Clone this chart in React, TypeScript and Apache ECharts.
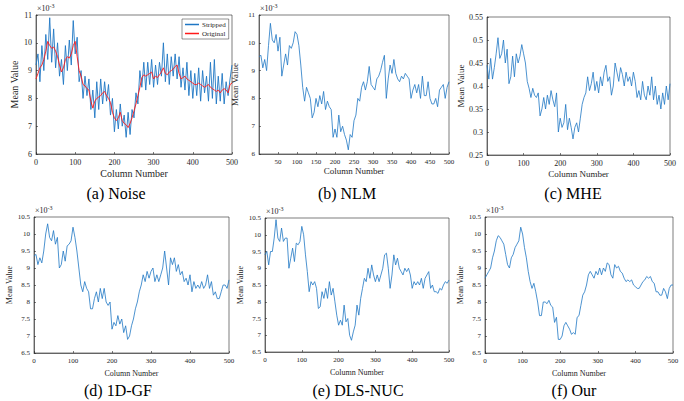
import React, { useEffect, useRef } from "react";
import * as echarts from "echarts";

// Mean value per column, sampled every 5 columns (0..500). Units: ×10^-3 except MHE.
const STEP = 5;
const noiseStripped = [
  9.2, 9.6, 8.6, 9.9, 9.0, 10.3, 9.4, 10.9, 9.3, 10.5, 9.1, 10.0, 8.8, 9.4, 8.5, 9.9, 9.0, 10.1, 9.2, 10.8,
  9.6, 10.2, 8.6, 9.0, 8.0, 8.8, 8.1, 8.7, 7.6, 8.3, 7.3, 8.6, 7.6, 8.7, 7.8, 8.6, 7.9, 8.5, 7.4, 8.0,
  6.8, 7.6, 6.9, 7.8, 7.0, 7.4, 6.6, 7.5, 6.7, 7.6, 7.3, 8.2, 7.8, 9.0, 8.4, 9.3, 8.3, 9.3, 8.5, 9.4,
  8.4, 9.2, 8.5, 9.3, 8.8, 10.0, 8.6, 9.6, 8.5, 9.5, 8.8, 9.6, 8.7, 9.5, 8.4, 9.1, 8.3, 9.3, 8.1, 9.0,
  8.0, 8.9, 8.1, 9.1, 7.9, 9.0, 8.2, 8.8, 7.9, 9.3, 8.0, 9.4, 7.8, 8.8, 7.9, 8.9, 7.8, 8.6, 8.1, 8.7, 9.2,
];
const noiseOriginal = [
  8.7, 8.9, 9.1, 9.2, 9.4, 9.7, 10.05, 9.9, 9.8, 9.85, 9.7, 9.5, 9.2, 8.95, 9.1, 9.4, 9.5, 9.45, 9.6, 9.9,
  10.05, 9.5, 9.0, 8.8, 8.5, 8.45, 8.35, 8.3, 7.9, 7.65, 7.9, 8.0, 8.05, 8.1, 8.2, 8.25, 8.1, 8.0, 7.85, 7.5,
  7.3, 7.2, 7.3, 7.5, 7.2, 7.1, 7.05, 6.95, 7.1, 7.3, 7.55, 7.8, 8.1, 8.4, 8.75, 8.85, 8.8, 8.85, 8.9, 8.95,
  8.7, 8.8, 8.75, 8.85, 8.95, 9.1, 8.9, 8.85, 8.95, 9.0, 9.05, 9.15, 9.2, 8.9, 8.7, 8.75, 8.8, 8.7, 8.65, 8.6,
  8.55, 8.5, 8.5, 8.55, 8.5, 8.45, 8.4, 8.45, 8.5, 8.4, 8.35, 8.3, 8.25, 8.3, 8.2, 8.3, 8.35, 8.3, 8.2, 8.5, 8.55,
];
const nlm = [
  9.5, 9.55, 9.1, 9.4, 9.0, 9.9, 10.7, 10.1, 10.0, 10.3, 9.7, 10.2, 8.8, 9.2, 9.6, 9.2, 9.9, 9.8, 10.0, 10.4,
  10.3, 9.9, 9.2, 8.4, 7.9, 8.4, 8.2, 8.0, 7.3, 7.5, 8.0, 7.7, 8.1, 7.8, 8.25, 7.6, 7.9, 7.7, 7.6, 6.6,
  6.9, 6.6, 7.4, 6.8, 7.0, 6.7, 6.5, 6.15, 6.7, 6.6, 7.2, 7.4, 8.0, 7.9, 8.4, 8.6, 8.3, 8.6, 9.15, 8.5,
  8.4, 8.3, 8.7, 8.8, 9.0, 9.3, 9.55, 8.0, 8.7, 9.2, 8.9, 9.4, 8.9, 8.7, 8.6, 8.8, 8.7, 8.9, 8.8, 8.7,
  8.0, 8.3, 8.5, 8.2, 8.5, 8.0, 8.8, 8.1, 8.1, 8.6, 8.0, 7.8, 7.8, 8.0, 7.7, 8.3, 8.4, 8.5, 8.0, 8.4, 8.6,
];
const mhe = [
  0.445, 0.415, 0.46, 0.415, 0.44, 0.47, 0.505, 0.46, 0.47, 0.5, 0.45, 0.48, 0.405, 0.42, 0.465, 0.42, 0.47, 0.45, 0.465, 0.49,
  0.47, 0.45, 0.41, 0.395, 0.375, 0.395, 0.38, 0.375, 0.385, 0.335, 0.35, 0.375, 0.35, 0.38, 0.36, 0.39, 0.37, 0.355, 0.385, 0.3,
  0.33, 0.31, 0.32, 0.36, 0.305, 0.33, 0.31, 0.285, 0.31, 0.32, 0.3, 0.33, 0.36, 0.375, 0.385, 0.42, 0.39, 0.405, 0.43, 0.39,
  0.41, 0.385, 0.42, 0.4, 0.43, 0.445, 0.41, 0.42, 0.38, 0.4, 0.45, 0.43, 0.41, 0.44, 0.425, 0.4, 0.43, 0.41, 0.42, 0.4,
  0.43, 0.41, 0.375, 0.39, 0.37, 0.41, 0.38, 0.37, 0.4, 0.38, 0.42, 0.37, 0.4, 0.36, 0.38, 0.35, 0.385, 0.36, 0.4, 0.37, 0.405,
];
const gf1d = [
  9.35, 9.4, 9.1, 9.3, 9.15, 9.5, 10.0, 10.3, 9.9, 9.8, 10.1, 9.7, 9.9, 9.0, 9.1, 9.5, 9.2, 9.65, 9.7, 9.8,
  10.2, 9.9, 9.5, 9.0, 8.5, 8.3, 8.6, 8.4, 8.3, 7.8, 7.8, 8.1, 8.3, 8.0, 8.4, 8.1, 8.4, 8.0, 7.9, 8.0,
  7.2, 7.4, 7.3, 7.6, 7.35, 7.5, 7.1, 7.3, 6.9, 7.0, 7.3, 7.5, 7.8, 8.0, 8.3, 8.5, 8.8, 8.6, 8.9, 8.7,
  8.9, 9.0, 8.6, 8.8, 8.6, 8.8, 9.0, 9.5, 9.0, 8.5, 9.3, 9.1, 9.3, 8.9, 9.1, 8.8, 8.9, 8.6, 8.7, 8.5,
  8.8, 8.3, 8.6, 8.4, 8.5, 8.4, 8.6, 8.4, 8.5, 8.8, 8.4, 8.6, 8.2, 8.3, 8.1, 8.1, 8.3, 8.5, 8.5, 8.4, 8.65,
];
const dlsNuc = [
  9.4, 9.5, 9.1, 9.5, 9.5, 9.9, 10.45, 9.9, 9.8, 10.2, 9.8, 9.9, 9.9, 9.0, 9.3, 9.6, 9.2, 9.75, 9.7, 9.8,
  10.25, 10.0, 9.4, 8.9, 8.3, 8.6, 8.5, 8.6, 8.4, 7.8, 7.85, 8.3, 8.1, 8.4, 8.1, 8.6, 8.2, 8.4, 8.0, 7.6,
  7.3, 7.45, 7.3, 7.9, 7.4, 7.5, 7.0, 6.85, 7.1, 7.3, 7.9, 7.6, 8.1, 8.4, 8.7, 8.6, 9.0, 8.7, 9.1, 8.8,
  8.6, 8.8, 8.6, 8.8, 9.0, 9.4, 9.45, 9.0, 8.4, 8.8, 9.4, 9.1, 9.3, 9.0, 8.9, 8.8, 9.0, 8.9, 9.0, 8.8,
  8.4, 8.6, 8.5, 8.6, 8.5, 8.7, 8.4, 8.7, 8.8, 8.9, 8.4, 8.5, 8.3, 8.3, 8.25, 8.4, 8.35, 8.5, 8.6, 8.55, 8.65,
];
const ours = [
  8.7, 8.8, 8.9, 9.0, 9.3, 9.5, 9.8, 9.95, 9.9, 9.8, 9.7, 9.4, 9.1, 9.0, 9.3, 9.4, 9.6, 9.7, 9.8, 10.2,
  10.0, 9.6, 9.3, 8.9, 8.6, 8.4, 8.55, 8.3, 8.0, 7.6, 7.6, 8.0, 8.0, 7.95, 8.05, 7.9, 7.85, 7.4, 7.55, 6.9,
  6.9, 7.0, 7.3, 7.4, 7.3, 7.2, 7.05, 7.1, 7.05, 7.55, 7.6, 7.9, 8.2, 8.3, 8.5, 8.8, 8.9, 8.8, 8.7, 8.9,
  8.8, 9.0, 8.8, 9.0, 8.9, 9.15, 9.1, 8.8, 8.7, 9.1, 9.0, 9.05, 8.9, 8.85, 8.7, 8.6, 8.65, 8.6, 8.65, 8.5,
  8.45, 8.4, 8.4, 8.5, 8.6, 8.65, 8.75, 8.7, 8.75, 8.6, 8.55, 8.3, 8.3, 8.2, 8.2, 8.4, 8.3, 8.1, 8.4, 8.5, 8.5,
];

const captions = ["(a) Noise", "(b) NLM", "(c) MHE", "(d) 1D-GF", "(e) DLS-NUC", "(f) Our"];
const captionX = [116, 347, 573, 118, 358, 574];
const captionY = [193, 193, 193, 390, 390, 390];

const FONT = "'Liberation Serif', 'Times New Roman', 'DejaVu Serif', serif";
const BLUE = "#1f77c4";
const RED = "#ff1a1a";
const AXIS = "#262626";

const toPairs = (arr: number[]) => arr.map((v, i) => [i * STEP, v]);

const grids = [
  { left: 36, top: 15, width: 196, height: 139 },
  { left: 259, top: 15, width: 190, height: 139 },
  { left: 487, top: 17, width: 183, height: 138 },
  { left: 34, top: 217, width: 195, height: 136 },
  { left: 265, top: 218, width: 184, height: 134 },
  { left: 485, top: 217, width: 188, height: 136 },
];

const yCfg = [
  { min: 6, max: 11, interval: 1, dec: 0 },
  { min: 6, max: 11, interval: 1, dec: 0 },
  { min: 0.25, max: 0.55, interval: 0.05, dec: 2 },
  { min: 6.5, max: 10.5, interval: 0.5, dec: 1 },
  { min: 6.5, max: 10.5, interval: 0.5, dec: 1 },
  { min: 6.5, max: 10.5, interval: 0.5, dec: 1 },
];
const xInterval = [100, 50, 100, 100, 100, 100];
const labelSize = [8, 7, 8, 7, 7, 7];
const nameSize = [10, 9, 9, 8, 8, 8];
const yNameGap = [17, 20, 22, 19, 20, 20];
const xNameGap = [14, 12, 14, 16, 16, 16];

export default function App() {
  const ref = useRef<HTMLDivElement>(null);
  useEffect(() => {
    if (!ref.current) return;
    const chart = echarts.init(ref.current, undefined, { renderer: "svg" });
    const xAxis = grids.map((_, i) => ({
      type: "value",
      gridIndex: i,
      min: 0,
      max: 500,
      interval: xInterval[i],
      name: "Column Number",
      nameLocation: "middle",
      nameGap: xNameGap[i],
      nameTextStyle: { fontFamily: FONT, fontSize: nameSize[i], color: AXIS },
      axisLine: { show: true, lineStyle: { color: AXIS, width: 0.6 } },
      axisTick: { show: true, inside: true, length: 2, lineStyle: { color: AXIS, width: 0.6 } },
      axisLabel: {
        fontFamily: FONT,
        fontSize: labelSize[i],
        color: AXIS,
        margin: 4,
        showMinLabel: i !== 1,
      },
      splitLine: { show: false },
    }));
    const yAxis = grids.map((_, i) => ({
      type: "value",
      gridIndex: i,
      min: yCfg[i].min,
      max: yCfg[i].max,
      interval: yCfg[i].interval,
      name: "Mean Value",
      nameLocation: "middle",
      nameGap: yNameGap[i],
      nameTextStyle: { fontFamily: FONT, fontSize: nameSize[i], color: AXIS },
      axisLine: { show: true, lineStyle: { color: AXIS, width: 0.6 } },
      axisTick: { show: true, inside: true, length: 2, lineStyle: { color: AXIS, width: 0.6 } },
      axisLabel: {
        fontFamily: FONT,
        fontSize: labelSize[i],
        color: AXIS,
        margin: 4,
        formatter: (v: number) => String(parseFloat(v.toFixed(yCfg[i].dec))),
      },
      splitLine: { show: false },
    }));
    const lineSeries = (name: string, data: number[], idx: number, color: string, w: number) => ({
      type: "line",
      name,
      xAxisIndex: idx,
      yAxisIndex: idx,
      data: toPairs(data),
      symbol: "none",
      lineStyle: { color, width: w },
      itemStyle: { color },
    });
    const expLabel = (x: number, y: number) => ({
      type: "text",
      left: x,
      top: y,
      style: {
        text: "{a|×10}{b|-3}",
        rich: {
          a: { fontFamily: FONT, fontSize: 8, fill: AXIS },
          b: { fontFamily: FONT, fontSize: 6, fill: AXIS, padding: [0, 0, 5, 0] },
        },
      },
    });
    const option = {
      animation: false,
      backgroundColor: "#ffffff",
      grid: grids.map((g) => ({ ...g, show: true, borderColor: AXIS, borderWidth: 0.6, backgroundColor: "transparent" })),
      xAxis,
      yAxis,
      legend: {
        data: ["Stripped", "Original"],
        orient: "vertical",
        left: 182,
        top: 19,
        icon: "rect",
        itemWidth: 14,
        itemHeight: 1.5,
        itemGap: 2,
        padding: [2, 3, 2, 3],
        borderColor: AXIS,
        borderWidth: 0.5,
        borderRadius: 0,
        backgroundColor: "#fff",
        textStyle: { fontFamily: FONT, fontSize: 7, color: AXIS, padding: [0, 0, 0, -2] },
      },
      series: [
        lineSeries("Stripped", noiseStripped, 0, BLUE, 0.9),
        lineSeries("Original", noiseOriginal, 0, RED, 0.9),
        lineSeries("NLM", nlm, 1, BLUE, 0.8),
        lineSeries("MHE", mhe, 2, BLUE, 0.8),
        lineSeries("1D-GF", gf1d, 3, BLUE, 0.8),
        lineSeries("DLS-NUC", dlsNuc, 4, BLUE, 0.8),
        lineSeries("Our", ours, 5, BLUE, 0.8),
      ],
      graphic: [
        expLabel(37, 3),
        expLabel(260, 3),
        expLabel(35, 205),
        expLabel(266, 206),
        expLabel(486, 205),
        ...captions.map((c, i) => ({
          type: "text",
          x: captionX[i],
          y: captionY[i],
          style: {
            text: c,
            fontFamily: FONT,
            fontSize: 16,
            fill: "#000",
            align: "center",
            verticalAlign: "middle",
          },
        })),
      ],
    };
    chart.setOption(option as any);
    return () => chart.dispose();
  }, []);
  return (
    <div
      ref={ref}
      style={{ position: "absolute", left: 0, top: 0, width: 684, height: 401, background: "#fff" }}
    />
  );
}
